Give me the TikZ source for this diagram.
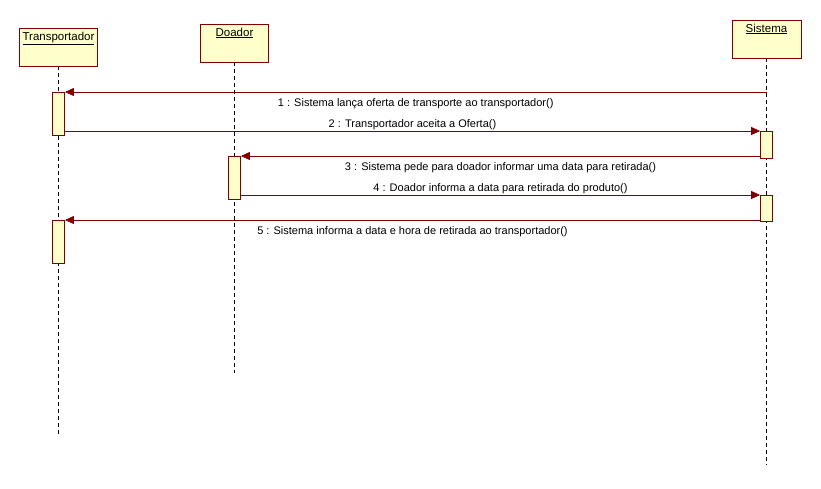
\documentclass[tikz,border=0pt]{standalone}
\usepackage{fontspec}
\setmainfont{Liberation Sans}
\usetikzlibrary{arrows.meta,positioning,calc}
\definecolor{umlred}{RGB}{128,0,0}
\definecolor{umlfill}{RGB}{255,255,204}
\tikzset{
    actor/.style={rectangle, draw=umlred, fill=umlfill, line width=0.8pt, inner sep=3pt, text height=9pt, text depth=23pt, font=\fontsize{11.5}{13}\selectfont},
    activation/.style={rectangle, draw=umlred, fill=umlfill, line width=0.8pt, minimum width=12pt, inner sep=0pt},
    lifeline/.style={draw, dashed, dash pattern=on 4pt off 3pt, line width=0.6pt},
    msg/.style={draw=umlred, line width=0.8pt, -{Triangle[length=9pt,width=8pt]}},
    msglabel/.style={font=\fontsize{11}{13}\selectfont, inner sep=3.5pt, yshift=-3pt}
}
\begin{document}
\begin{tikzpicture}[x=1pt, y=-1pt]
    \useasboundingbox (0,0) rectangle (821,488);

    \node [actor, minimum width=77pt, minimum height=38pt] (transp) at (58.5,47) {\underline{Transportador}};
    \node [actor, minimum width=68pt, minimum height=38pt] (doador) at (234.5,43) {\underline{Doador}};
    \node [actor, minimum width=69pt, minimum height=38pt] (sistema) at (766.5,39) {\underline{Sistema}};

    \coordinate (transpend) at (58.5,435);
    \coordinate (doadorend) at (234.5,373);
    \coordinate (sistemaend) at (766.5,465);
    \coordinate (sistemastart) at (766.5,92);

    \path [lifeline] (transp) -- (transpend);
    \path [lifeline] (doador) -- (doadorend);
    \path [lifeline] (sistema) -- (sistemaend);

    \node [activation, minimum height=43pt, anchor=north] (transpact1) at (58.5,92) {};
    \node [activation, minimum height=27pt, anchor=north] (sistemaact1) at (766.5,131) {};
    \node [activation, minimum height=43pt, anchor=north] (doadoract) at (234.5,156) {};
    \node [activation, minimum height=26pt, anchor=north] (sistemaact2) at (766.5,195) {};
    \node [activation, minimum height=43pt, anchor=north] (transpact2) at (58.5,220) {};

    \path [msg] (sistemastart) -- node [msglabel, below] {1 : Sistema lança oferta de transporte ao transportador()} (transpact1.north east);
    \path [msg] (transpact1.east |- sistemaact1.north) -- node [msglabel, above] {2 : Transportador aceita a Oferta()} (sistemaact1.north west);
    \path [msg] (sistemaact1.west |- doadoract.north) -- node [msglabel, below] {3 : Sistema pede para doador informar uma data para retirada()} (doadoract.north east);
    \path [msg] (doadoract.east |- sistemaact2.north) -- node [msglabel, above] {4 : Doador informa a data para retirada do produto()} (sistemaact2.north west);
    \path [msg] (sistemaact2.west |- transpact2.north) -- node [msglabel, below] {5 : Sistema informa a data e hora de retirada ao transportador()} (transpact2.north east);
\end{tikzpicture}
\end{document}
